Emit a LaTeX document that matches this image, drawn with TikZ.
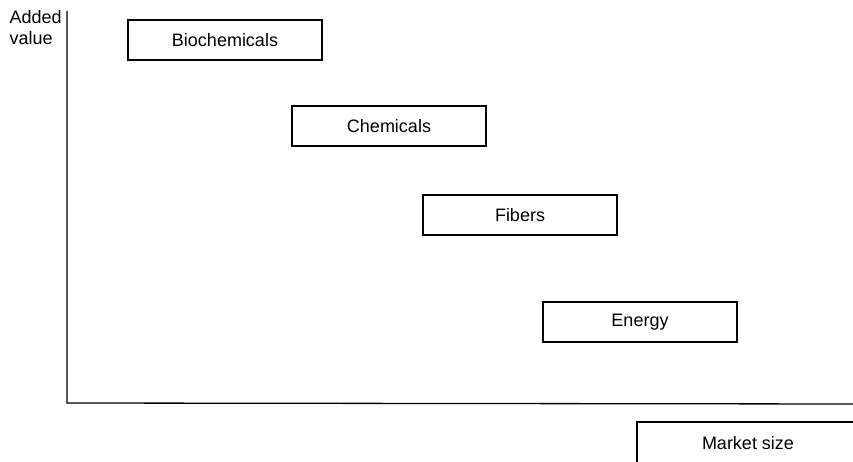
\documentclass[tikz,border=0pt]{standalone}
\usepackage{fontspec}
\setmainfont{Liberation Sans}
\begin{document}
\begin{tikzpicture}[x=1pt,y=-1pt,
  line width=1.3pt,
  sector/.style={draw, rectangle, minimum width=194pt, minimum height=40pt,
    inner sep=0pt, font=\fontsize{18}{21}\selectfont},
  axislabel/.style={font=\fontsize{18}{21}\selectfont, align=left, inner sep=0pt}]
  \useasboundingbox (0,0) rectangle (853,462);
  \clip (0,0) rectangle (853,462);
  % axes
  \coordinate (top) at (67,11);
  \coordinate (origin) at (67,403);
  \coordinate (right) at (860,404);
  \draw (top) -- (origin) -- (right);
  \node[axislabel, anchor=north west] (yl) at (9,10) {Added\\value};
  % product sectors
  \node[sector] (bio) at (225,40) {Biochemicals};
  \node[sector] (chem) at (389,126) {Chemicals};
  \node[sector] (fib) at (520,215) {Fibers};
  \node[sector] (en) at (640,322) {Energy};
  % x-axis label box, running off the edge
  \node[font=\fontsize{18}{21}\selectfont, inner sep=0pt] (xl) at (748,443) {Market size};
  \coordinate (mbl) at (637,470);
  \coordinate (mtl) at (637,422);
  \coordinate (mtr) at (860,422);
  \draw (mbl) -- (mtl) -- (mtr);
\end{tikzpicture}
\end{document}
